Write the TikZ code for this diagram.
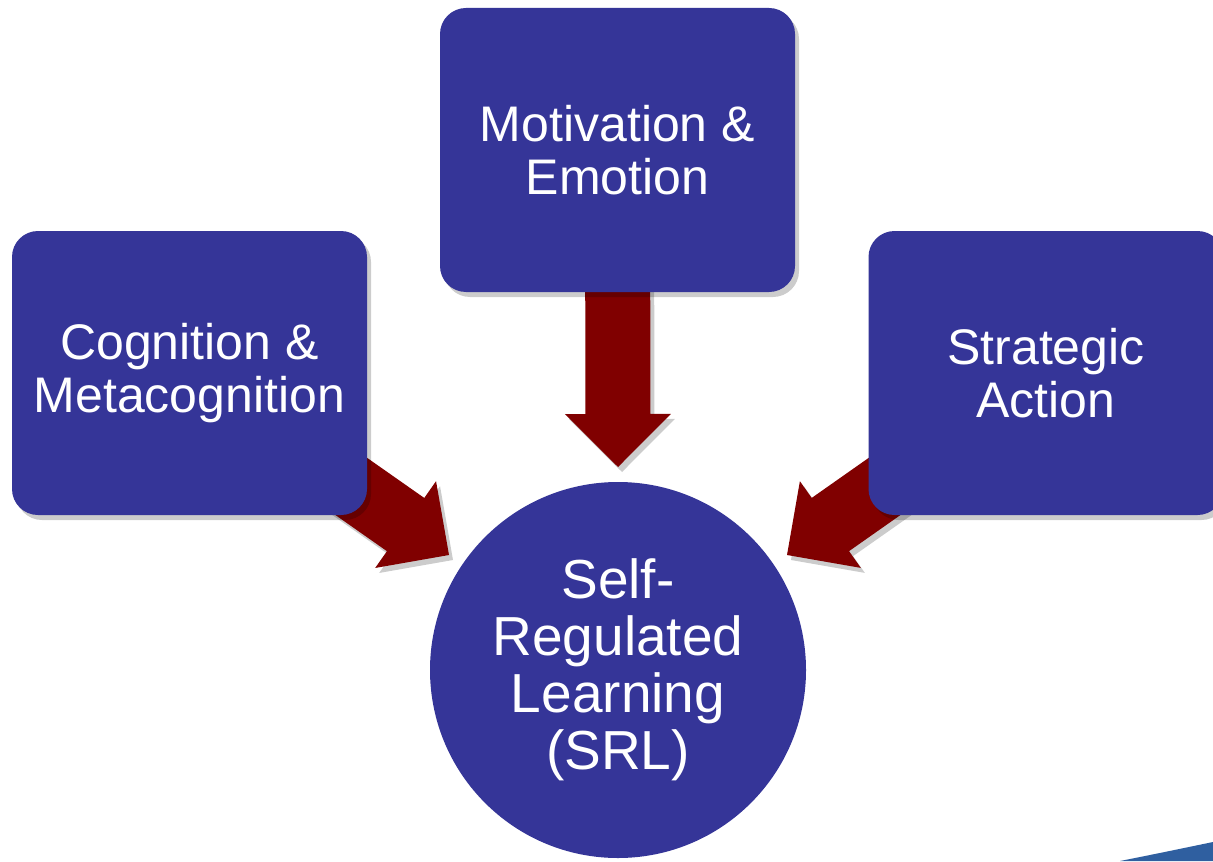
\documentclass[tikz,border=0pt]{standalone}
\usepackage{fontspec}
\setmainfont{Liberation Sans}
\usetikzlibrary{calc,shadows}
\definecolor{boxblue}{RGB}{53,53,152}
\definecolor{arrowred}{RGB}{128,0,0}
\definecolor{cornerblue}{RGB}{47,95,160}
\pgfdeclarelayer{bg}
\pgfdeclarelayer{paper}
\pgfsetlayers{paper,bg,main}
\tikzset{
  softshadow/.style={drop shadow={shadow xshift=2pt, shadow yshift=-2.5pt, opacity=0.2, fill=black}},
  box/.style={fill=boxblue, rounded corners=13pt, minimum width=177.5pt, minimum height=142pt,
    text=white, align=center, font=\fontsize{25}{26.5}\selectfont, inner sep=0pt, softshadow},
  srl/.style={circle, fill=boxblue, minimum size=188pt, inner sep=0pt, text=white, align=center,
    font=\fontsize{27.5}{28.5}\selectfont},
  arrowfill/.style={fill=arrowred, softshadow}
}
\newcommand\fatarrow[2]{%
  \coordinate (fb) at ($(#2)!26.5pt!(#1)$);
  \fill[arrowfill] ($(#1)!16.25pt!90:(#2)$) -- ($(fb)!16.25pt!90:(#2)$) -- ($(fb)!26.5pt!90:(#2)$)
    -- (#2) -- ($(fb)!26.5pt!-90:(#2)$) -- ($(fb)!16.25pt!-90:(#2)$) -- ($(#1)!16.25pt!-90:(#2)$) -- cycle;}
\begin{document}
\begin{tikzpicture}[x=0.5pt, y=-0.5pt]
\useasboundingbox (0,0) rectangle (1213,861);
\begin{pgfonlayer}{paper}
\fill[white] (0,0) rectangle (1213,861);
\end{pgfonlayer}
\node[box] (cm) at (189.5,373) {Cognition \&\\Metacognition};
\node[box] (me) at (617.5,150) {Motivation \&\\Emotion};
\node[box] (sa) at (1046,373) {Strategic\\Action};
\node[srl] (srlc) at (618,670) {Self-\\Regulated\\Learning\\(SRL)};
\coordinate (tl) at (449,555);
\coordinate (tm) at (618,467);
\coordinate (tr) at (787,555);
\begin{pgfonlayer}{bg}
\fatarrow{cm.center}{tl}
\fatarrow{me.center}{tm}
\fatarrow{sa.center}{tr}
\end{pgfonlayer}
\fill[cornerblue] (1120,861) .. controls (1160,853) .. (1213,842) -- (1213,861) -- cycle;
\end{tikzpicture}
\end{document}
